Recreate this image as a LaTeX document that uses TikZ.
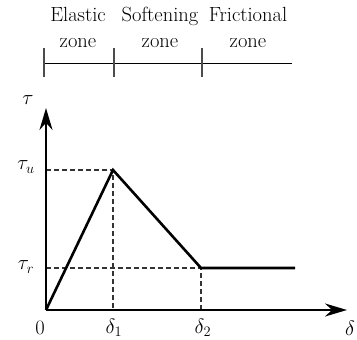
\documentclass[tikz,border=0pt]{standalone}
\usepackage{amsmath,amssymb}
\usepackage{fontspec}
\usepackage{tikz}
\usetikzlibrary{arrows.meta}

\begin{document}
\begin{tikzpicture}[x=1pt,y=1pt,>={Stealth[length=22pt,width=13pt]},
    lbl/.style={font=\fontsize{20.5}{26}\selectfont,inner sep=0pt},
    zone/.style={lbl,align=center},
    curve/.style={line width=2.6pt,line join=miter},
    guide/.style={dash pattern=on 5pt off 3pt,line width=1.1pt,black!80}]
    \useasboundingbox (0,0) rectangle (357,340);
    % points of the law
    \coordinate (O) at (46,30);
    \coordinate (xend) at (347,30);
    \coordinate (yend) at (46,232);
    \coordinate (pk) at (113,170);
    \coordinate (res) at (201,72);
    \coordinate (resend) at (295,72);
    \coordinate (u) at (46,170);
    \coordinate (r) at (46,72);
    \coordinate (d1) at (113,30);
    \coordinate (d2) at (201,30);
    % zone bar
    \coordinate (b0) at (44,277);
    \coordinate (b1) at (114,277);
    \coordinate (b2) at (202,277);
    \coordinate (b3) at (292,277);
    \draw[line width=0.9pt] (b0) -- (b3);
    \foreach \p in {b0,b1,b2}
        \draw[line width=1.2pt,black!70] ([yshift=-14pt]\p) -- ([yshift=15pt]\p);
    \node[zone] (el) at (78,313) {Elastic\\zone};
    \node[zone] (so) at (160,313) {Softening\\zone};
    \node[zone] (fr) at (248,313) {Frictional\\zone};
    % guides
    \draw[guide] (u) -- (pk) -- (d1);
    \draw[guide] (r) -- (res) -- (d2);
    % axes
    \draw[->,line width=2.4pt] (O) -- (xend);
    \draw[->,line width=2.4pt] (O) -- (yend);
    % law
    \draw[curve] (O) -- (pk) -- (res) -- (resend);
    % labels
    \node[lbl] (tau) at (28,240) {$\tau$};
    \node[lbl] (tu) at (26,173) {$\tau_u$};
    \node[lbl] (tr) at (26,73) {$\tau_r$};
    \node[lbl] (zero) at (40,12) {0};
    \node[lbl] (l1) at (114,12) {$\delta_1$};
    \node[lbl] (l2) at (203,12) {$\delta_2$};
    \node[lbl] (dl) at (350,12) {$\delta$};
\end{tikzpicture}
\end{document}
